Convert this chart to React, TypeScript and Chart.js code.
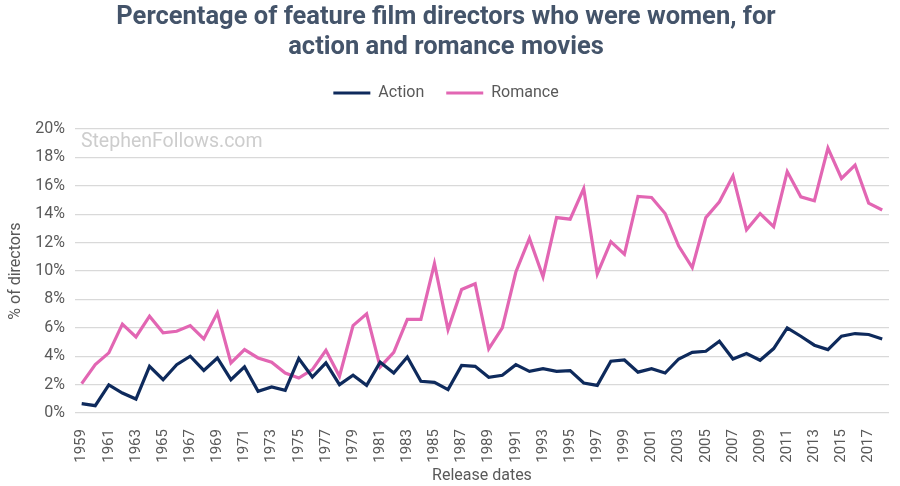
import { useEffect, useRef } from "react"
import { Chart, registerables, type ChartConfiguration, type Plugin } from "chart.js"

Chart.register(...registerables)

const years: string[] = []
for (let y = 1959; y <= 2018; y++) years.push(String(y))

// % of feature film directors who were women
const actionValues = [
  0.66, 0.52, 1.98, 1.41, 0.99, 3.29, 2.35, 3.41, 4.0, 3.0,
  3.88, 2.35, 3.25, 1.53, 1.84, 1.6, 3.84, 2.54, 3.53, 2.0,
  2.66, 1.95, 3.58, 2.82, 3.95, 2.24, 2.16, 1.65, 3.36, 3.29,
  2.52, 2.66, 3.41, 2.94, 3.13, 2.94, 2.99, 2.12, 1.95, 3.65,
  3.74, 2.88, 3.13, 2.82, 3.81, 4.28, 4.35, 5.06, 3.81, 4.19,
  3.72, 4.54, 6.0, 5.41, 4.78, 4.47, 5.41, 5.6, 5.53, 5.22,
]

const romanceValues = [
  2.07, 3.41, 4.24, 6.26, 5.36, 6.82, 5.65, 5.76, 6.16, 5.22,
  7.06, 3.53, 4.47, 3.88, 3.58, 2.82, 2.47, 3.06, 4.42, 2.59,
  6.16, 6.99, 3.25, 4.28, 6.59, 6.59, 10.52, 5.88, 8.7, 9.1,
  4.52, 6.0, 9.93, 12.3, 9.6, 13.76, 13.65, 15.8, 9.8, 12.07,
  11.18, 15.25, 15.18, 14.05, 11.76, 10.24, 13.76, 14.87, 16.7, 12.9,
  14.05, 13.13, 17.0, 15.22, 14.94, 18.66, 16.52, 17.46, 14.78, 14.3,
]

const FONT = "Roboto, 'Noto Sans', sans-serif"
const GREY = "#595959"

// faint site name in the top-left of the plot
const watermark: Plugin<"line"> = {
  id: "watermark",
  afterDraw(chart) {
    const { ctx, chartArea } = chart
    ctx.save()
    ctx.font = `19.5px ${FONT}`
    ctx.fillStyle = "#cdcdcd"
    ctx.textBaseline = "middle"
    ctx.fillText("StephenFollows.com", chartArea.left + 6, chartArea.top + 13)
    ctx.restore()
  },
}

// more room under the legend
const legendGap: Plugin<"line"> = {
  id: "legendGap",
  beforeInit(chart) {
    const legend = chart.legend as any
    if (!legend) return
    const fit = legend.fit
    legend.fit = function () {
      fit.bind(legend)()
      this.height += 18
    }
  },
}

export default function App() {
  const canvasRef = useRef<HTMLCanvasElement>(null)

  useEffect(() => {
    if (!canvasRef.current) return

    const config: ChartConfiguration<"line"> = {
      type: "line",
      data: {
        labels: years,
        datasets: [
          {
            label: "Action",
            data: actionValues,
            borderColor: "#0e2a5c",
            backgroundColor: "#0e2a5c",
            borderWidth: 3.2,
            pointRadius: 0,
            tension: 0,
          },
          {
            label: "Romance",
            data: romanceValues,
            borderColor: "#e266b3",
            backgroundColor: "#e266b3",
            borderWidth: 3.2,
            pointRadius: 0,
            tension: 0,
          },
        ],
      },
      options: {
        responsive: true,
        maintainAspectRatio: false,
        animation: false,
        layout: { padding: { left: 3, right: 11, bottom: 0 } },
        plugins: {
          title: {
            display: true,
            text: [
              "Percentage of feature film directors who were women, for",
              "action and romance movies",
            ],
            color: "#44546a",
            font: { family: FONT, size: 25.5, weight: "bold", lineHeight: 1.176 },
            padding: { top: 3, bottom: 0 },
          },
          legend: {
            display: true,
            position: "top",
            labels: {
              color: GREY,
              font: { family: FONT, size: 16 },
              usePointStyle: true,
              pointStyle: "line",
              pointStyleWidth: 37,
              padding: 22,
            },
          },
          tooltip: { enabled: false },
        },
        scales: {
          x: {
            offset: true,
            grid: { display: false },
            border: { display: false },
            afterFit: (scale) => {
              scale.height -= 4
              scale.paddingRight = 0
            },
            title: {
              display: true,
              text: "Release dates",
              color: GREY,
              font: { family: FONT, size: 16 },
              padding: { top: 0, bottom: 0 },
            },
            ticks: {
              color: GREY,
              font: { family: FONT, size: 15 },
              autoSkip: false,
              maxRotation: 90,
              minRotation: 90,
              padding: 8,
              callback: (_v, i) => (i % 2 === 0 ? years[i] : ""),
            },
          },
          y: {
            min: 0,
            max: 20,
            grid: { color: "#d9d9d9", lineWidth: 1.3, drawTicks: false },
            border: { display: false },
            title: {
              display: true,
              text: "% of directors",
              color: GREY,
              font: { family: FONT, size: 16 },
              padding: { top: 3, bottom: 0 },
            },
            ticks: {
              stepSize: 2,
              color: GREY,
              font: { family: FONT, size: 16 },
              padding: 10,
              callback: (v) => `${v}%`,
            },
          },
        },
      },
      plugins: [watermark, legendGap],
    }

    const chart = new Chart(canvasRef.current, config)
    return () => chart.destroy()
  }, [])

  return (
    <div style={{ position: "absolute", left: 0, top: 0, width: 900, height: 486, background: "#fff" }}>
      <canvas ref={canvasRef} />
    </div>
  )
}
